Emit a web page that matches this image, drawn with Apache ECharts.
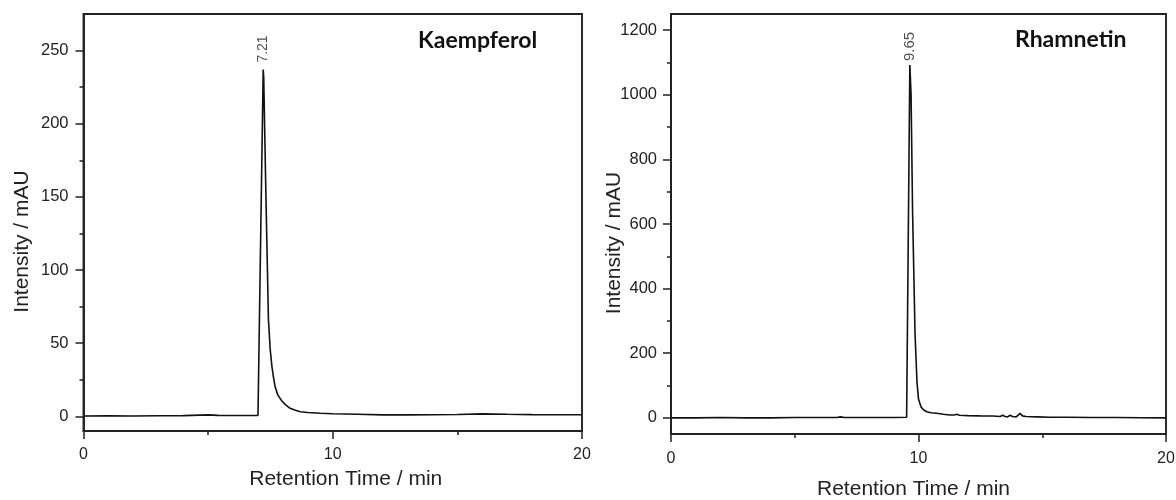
<!DOCTYPE html>
<html>
<head>
<meta charset="utf-8">
<script src="https://cdn.jsdelivr.net/npm/echarts@6/dist/echarts.min.js"></script>
<style>
html,body{margin:0;padding:0;background:#fff;}
#chart{width:1176px;height:500px;}
</style>
</head>
<body>
<div id="chart"></div>
<script>
// ---- Data ----
const kaempferolTime = [0, 1, 2, 3, 4, 5, 5.4, 6, 6.5, 7.0, 7.07, 7.21, 7.23, 7.32, 7.42, 7.49, 7.56, 7.62, 7.69, 7.8, 7.96, 8.1, 8.29, 8.5, 8.7, 9.0, 9.5, 10, 11, 12, 13, 14, 15, 16, 17, 18, 19, 20];
const kaempferolIntensity = [0.3, 0.4, 0.3, 0.4, 0.5, 1.0, 0.7, 0.6, 0.6, 0.7, 1.2, 237, 232, 150, 66, 46, 34, 27, 20, 14.5, 10.5, 8, 5.5, 4.2, 3.2, 2.6, 2.1, 1.8, 1.4, 1.0, 1.0, 1.1, 1.3, 1.7, 1.4, 1.2, 1.1, 1.1];

const rhamnetinTime = [0, 1, 2, 3, 4, 5, 6, 6.7, 6.78, 6.85, 6.92, 7.0, 8, 9, 9.52, 9.65, 9.70, 9.76, 9.86, 9.94, 10.0, 10.1, 10.2, 10.33, 10.5, 10.74, 11.0, 11.27, 11.45, 11.55, 11.65, 12, 12.5, 13, 13.3, 13.4, 13.5, 13.6, 13.7, 13.8, 13.95, 14.1, 14.2, 14.35, 14.8, 15.3, 16, 17, 18, 19, 20];
const rhamnetinIntensity = [0, 0, 1, 0, 0, 1, 1, 1, 5, 3, 6, 1, 1, 1, 2, 1092, 1000, 640, 260, 110, 58, 34, 25, 19, 16, 14, 11, 9, 9, 11, 8, 7, 6, 5.5, 4, 8, 4, 3, 8, 4, 3, 14, 6, 4, 3, 2, 2, 1, 1, 0.5, 0];

const xMajorTicks = [0, 10, 20];
const xMinorTicks = [5, 15];
const kYMajorTicks = [0, 50, 100, 150, 200, 250];
const kYMinorTicks = [25, 75, 125, 175, 225];
const rYMajorTicks = [0, 200, 400, 600, 800, 1000, 1200];
const rYMinorTicks = [100, 300, 500, 700, 900, 1100];

const compoundNames = ['Kaempferol', 'Rhamnetin'];
const xTitle = 'Retention Time / min';
const yTitle = 'Intensity / mAU';

// ---- Build ----
function lineData(times, values) {
  return times.map((t, i) => [t, values[i]]);
}
function peakData(times, values) {
  let maxI = 0;
  values.forEach((v, i) => { if (v > values[maxI]) maxI = i; });
  return [[times[maxI], values[maxI]]];
}

const font = 'Liberation Sans';
const axisColor = '#222';
const lw = 1.9;

function xAxes(gridIndex, labelMargin, nameGap, namePad) {
  return [
    {
      type: 'value', gridIndex, min: 0, max: 20,
      axisLine: { onZero: false, lineStyle: { color: axisColor, width: lw } },
      axisTick: { inside: false, length: 8, customValues: xMajorTicks, lineStyle: { color: axisColor, width: 1.5 } },
      axisLabel: { customValues: xMajorTicks, margin: labelMargin, fontFamily: font, fontSize: 16, color: '#222', formatter: v => String(v) },
      splitLine: { show: false },
      name: xTitle, nameLocation: 'middle', nameGap, nameMoveOverlap: false,
      nameTextStyle: { fontFamily: font, fontSize: 21, color: '#222', padding: namePad }
    },
    {
      type: 'value', gridIndex, min: 0, max: 20, position: 'bottom',
      axisLine: { show: false, onZero: false },
      axisTick: { length: 4, customValues: xMinorTicks, lineStyle: { color: axisColor, width: 1.5 } },
      axisLabel: { show: false },
      splitLine: { show: false }
    }
  ];
}

function yAxes(gridIndex, min, max, major, minor, labelMargin, nameGap) {
  return [
    {
      type: 'value', gridIndex, min, max,
      axisLine: { onZero: false, lineStyle: { color: axisColor, width: lw } },
      axisTick: { length: 8, customValues: major, lineStyle: { color: axisColor, width: 1.5 } },
      axisLabel: { customValues: major, margin: labelMargin, fontFamily: font, fontSize: 16.5, color: '#222', formatter: v => String(v) },
      splitLine: { show: false },
      name: yTitle, nameLocation: 'middle', nameGap, nameMoveOverlap: false,
      nameTextStyle: { fontFamily: font, fontSize: 21, color: '#222', padding: [0, 38, 0, 0] }
    },
    {
      type: 'value', gridIndex, min, max, position: 'left',
      axisLine: { show: false, onZero: false },
      axisTick: { length: 4, customValues: minor, lineStyle: { color: axisColor, width: 1.5 } },
      axisLabel: { show: false },
      splitLine: { show: false }
    }
  ];
}

function peakSeries(xAxisIndex, yAxisIndex, data, fontSize, distance) {
  return {
    type: 'scatter', xAxisIndex, yAxisIndex, data,
    symbol: 'circle', symbolSize: 0, silent: true,
    label: {
      show: true, position: 'top', distance, rotate: 90,
      align: 'left', verticalAlign: 'middle',
      fontFamily: font, fontSize, color: '#222',
      formatter: p => p.value[0].toFixed(2)
    },
    z: 6
  };
}

const option = {
  backgroundColor: '#fff',
  animation: false,
  grid: [
    { left: 83.5, top: 14, width: 498.5, height: 417, outerBoundsMode: 'none', containLabel: false, show: true, borderColor: axisColor, borderWidth: lw, backgroundColor: 'transparent' },
    { left: 671, top: 14, width: 495, height: 420, outerBoundsMode: 'none', containLabel: false, show: true, borderColor: axisColor, borderWidth: lw, backgroundColor: 'transparent' }
  ],
  xAxis: [].concat(xAxes(0, 16, 38, [0, 0, 0, 26]), xAxes(1, 17, 45, [0, 10, 0, 0])),
  yAxis: [].concat(
    yAxes(0, -10, 275, kYMajorTicks, kYMinorTicks, 15, 51),
    yAxes(1, -50, 1250, rYMajorTicks, rYMinorTicks, 14, 46)
  ),
  series: [
    {
      type: 'line', xAxisIndex: 0, yAxisIndex: 0, showSymbol: false, symbol: 'none',
      data: lineData(kaempferolTime, kaempferolIntensity),
      lineStyle: { color: '#111', width: 1.6 }, z: 5
    },
    peakSeries(0, 0, peakData(kaempferolTime, kaempferolIntensity), 14, 7),
    {
      type: 'line', xAxisIndex: 2, yAxisIndex: 2, showSymbol: false, symbol: 'none',
      data: lineData(rhamnetinTime, rhamnetinIntensity),
      lineStyle: { color: '#111', width: 1.6 }, z: 5
    },
    peakSeries(2, 2, peakData(rhamnetinTime, rhamnetinIntensity), 15, 4)
  ],
  graphic: [
    { type: 'text', x: 418, y: 41, style: { text: compoundNames[0], font: 'bold 23px Lato', fill: '#111', verticalAlign: 'middle' } },
    { type: 'text', x: 1015, y: 40, style: { text: compoundNames[1], font: 'bold 23px Lato', fill: '#111', verticalAlign: 'middle' } }
  ]
};

const chart = echarts.init(document.getElementById('chart'), null, { renderer: 'canvas' });
chart.setOption(option);
</script>
</body>
</html>
